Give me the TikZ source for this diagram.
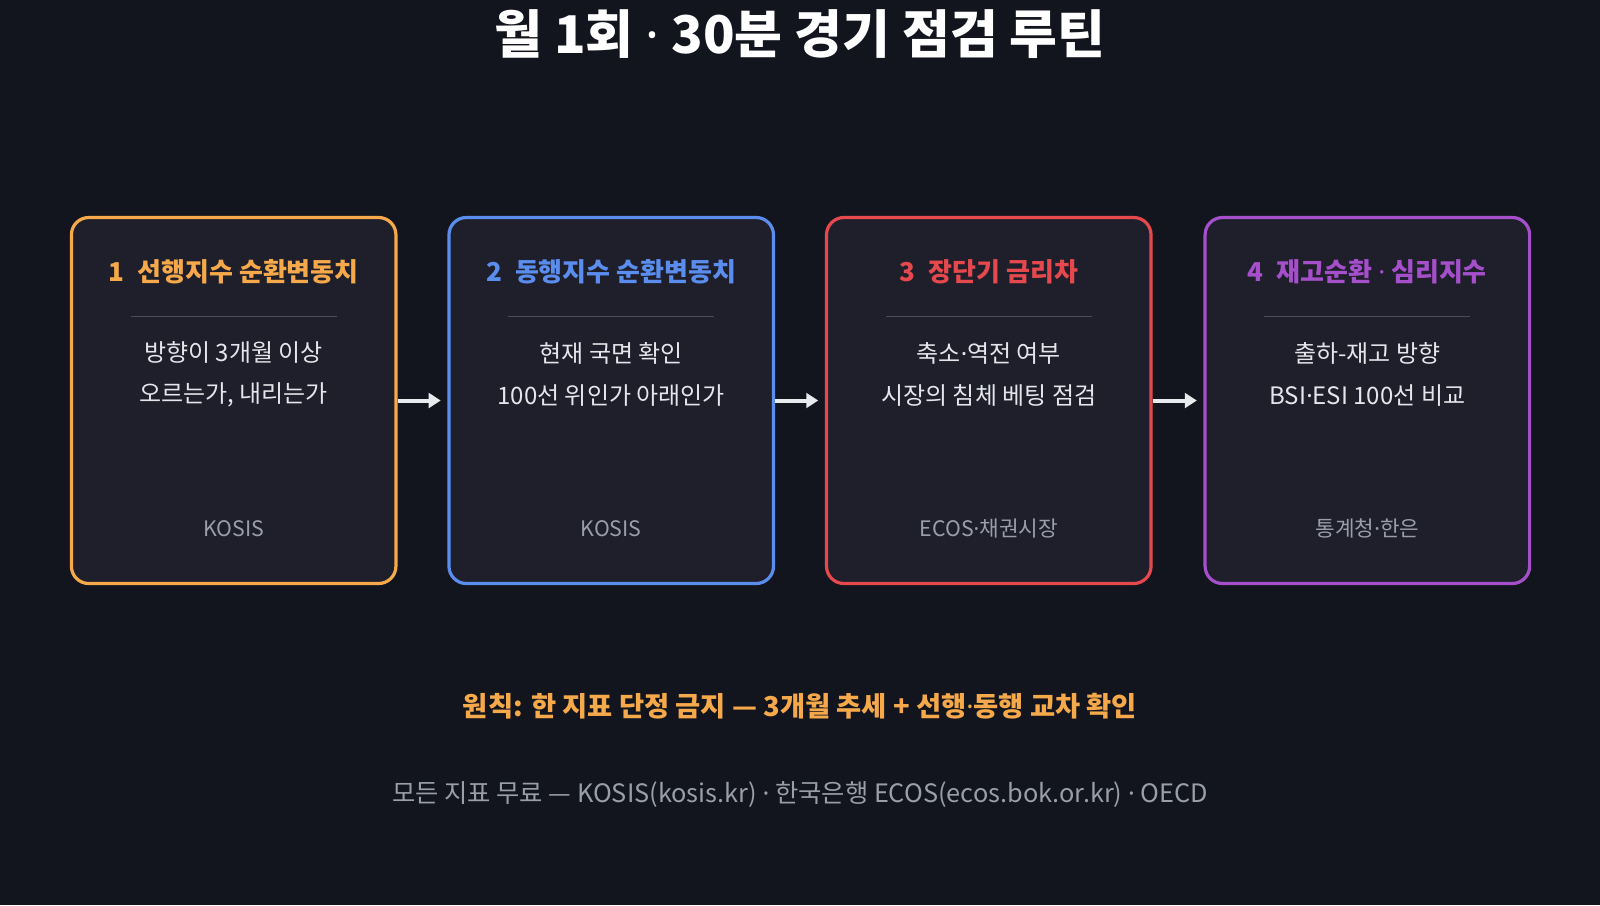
\documentclass[tikz,border=0pt]{standalone}
\usepackage{fontspec}
\setmainfont{Noto Sans CJK KR}
\newfontfamily\dotfont{Noto Sans}
\newcommand{\md}{{\dotfont ·}}
\usetikzlibrary{arrows.meta}
\definecolor{bg}{HTML}{12151D}
\definecolor{boxfill}{HTML}{1E1F2B}
\definecolor{cO}{HTML}{F5A94A}
\definecolor{cB}{HTML}{5B8DEF}
\definecolor{cR}{HTML}{E5484D}
\definecolor{cP}{HTML}{A54FCB}
\definecolor{txt}{HTML}{E4E6EB}
\definecolor{src}{HTML}{9A9EA8}
\definecolor{sep}{HTML}{4A4C57}
\begin{document}
\begin{tikzpicture}[x=0.7653pt,y=-0.7653pt,
  card/.style={draw=#1,line width=2.4pt,fill=boxfill,rounded corners=13pt,minimum width=243.4pt,minimum height=274.5pt,inner sep=0pt},
  head/.style={text=#1,font=\fontsize{19.5}{22}\selectfont\bfseries},
  body/.style={text=txt,font=\fontsize{18}{31}\selectfont,align=center},
  srct/.style={text=src,font=\fontsize{16}{18}\selectfont},
  flow/.style={draw=txt!85,line width=3pt,shorten >=5pt,-{Triangle[length=9pt,width=11pt]}}]
\fill[bg] (0,0) rectangle (1568,887);
\useasboundingbox (0,0) rectangle (1568,887);
\node[text=white,font=\fontsize{39}{44}\selectfont\bfseries] (title) at (784,33) {월 1회 \md{} 30분 경기 점검 루틴};
\foreach \i/\x/\c/\h/\la/\lb/\s in {
 1/229/cO/{1\enspace 선행지수 순환변동치}/{방향이 3개월 이상}/{오르는가, 내리는가}/KOSIS,
 2/599/cB/{2\enspace 동행지수 순환변동치}/{현재 국면 확인}/{100선 위인가 아래인가}/KOSIS,
 3/969/cR/{3\enspace 장단기 금리차}/{축소\md 역전 여부}/{시장의 침체 베팅 점검}/{ECOS\md 채권시장},
 4/1340/cP/{4\enspace 재고순환 \md{} 심리지수}/{출하-재고 방향}/{BSI\md ESI 100선 비교}/{통계청\md 한은}}{
 \node[card=\c] (box\i) at (\x,392.5) {};
 \node[head=\c] (h\i) at (\x,266) {\h};
 \draw[sep,line width=1pt] (\x-101,310) -- (\x+101,310);
 \node[body] (b\i) at (\x,367) {\la\\\lb};
 \node[srct] (s\i) at (\x,518) {\s};
}
\draw[flow] (box1.east) -- (box2.west);
\draw[flow] (box2.east) -- (box3.west);
\draw[flow] (box3.east) -- (box4.west);
\node[text=cO,font=\fontsize{20.5}{22}\selectfont\bfseries] (rule) at (784,692) {원칙: 한 지표 단정 금지 — 3개월 추세 + 선행\md 동행 교차 확인};
\node[text=src,font=\fontsize{19}{20}\selectfont] (foot) at (784,779) {모든 지표 무료 — KOSIS(kosis.kr) \md{} 한국은행 ECOS(ecos.bok.or.kr) \md{} OECD};
\end{tikzpicture}
\end{document}
